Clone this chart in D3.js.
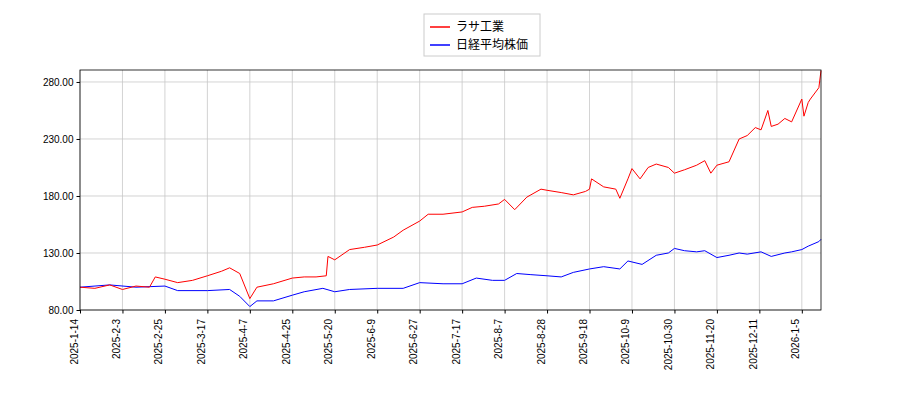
<!DOCTYPE html><html><head><meta charset="utf-8"><script src="https://cdn.jsdelivr.net/npm/d3@7"></script>
<style>body{margin:0;background:#fff}svg{font-family:"DejaVu Sans",sans-serif}</style></head><body><svg id="c" width="900" height="400"></svg><script>
const rasaDates=["2025-01-14","2025-01-21","2025-01-28","2025-02-03","2025-02-10","2025-02-17","2025-02-20","2025-02-25","2025-03-03","2025-03-10","2025-03-17","2025-03-24","2025-03-28","2025-04-02","2025-04-07","2025-04-10","2025-04-17","2025-04-25","2025-05-02","2025-05-09","2025-05-15","2025-05-16","2025-05-20","2025-05-27","2025-06-03","2025-06-09","2025-06-16","2025-06-20","2025-06-27","2025-07-01","2025-07-08","2025-07-17","2025-07-22","2025-07-28","2025-08-04","2025-08-07","2025-08-12","2025-08-18","2025-08-25","2025-08-28","2025-09-04","2025-09-10","2025-09-16","2025-09-18","2025-09-19","2025-09-25","2025-10-01","2025-10-03","2025-10-07","2025-10-09","2025-10-13","2025-10-17","2025-10-21","2025-10-27","2025-10-30","2025-11-04","2025-11-10","2025-11-14","2025-11-17","2025-11-20","2025-11-26","2025-12-01","2025-12-05","2025-12-09","2025-12-12","2025-12-16","2025-12-18","2025-12-22","2025-12-26","2025-12-30","2026-01-05","2026-01-06","2026-01-08","2026-01-09","2026-01-13","2026-01-14"];
const rasaValues=[100,99,102,98,101,100,109,107,104,106,110,114,117,112,90,100,103,108,109,109,110,127,124,133,135,137,144,150,158,164,164,166,170,171,173,177,168,179,186,185,183,181,184,186,195,188,186,178,195,204,195,205,208,205,200,203,207,211,200,207,210,230,233,240,238,255,241,243,248,245,265,250,262,265,275,290];
const nikkeiDates=["2025-01-14","2025-01-28","2025-02-10","2025-02-25","2025-03-03","2025-03-17","2025-03-28","2025-04-02","2025-04-07","2025-04-10","2025-04-17","2025-04-25","2025-05-02","2025-05-13","2025-05-20","2025-05-27","2025-06-09","2025-06-20","2025-06-27","2025-07-08","2025-07-17","2025-07-24","2025-08-01","2025-08-07","2025-08-13","2025-08-20","2025-08-28","2025-09-04","2025-09-10","2025-09-18","2025-09-25","2025-10-03","2025-10-07","2025-10-14","2025-10-21","2025-10-27","2025-10-30","2025-11-04","2025-11-10","2025-11-14","2025-11-20","2025-11-26","2025-12-01","2025-12-05","2025-12-12","2025-12-18","2025-12-26","2025-12-30","2026-01-05","2026-01-08","2026-01-13","2026-01-14"];
const nikkeiValues=[100,102,100,101,97,97,98,92,83,88,88,93,96,99,96,98,99,99,104,103,103,108,106,106,112,111,110,109,113,116,118,116,123,120,128,130,134,132,131,132,126,128,130,129,131,127,130,131,133,136,140,142];
const xTicks=["2025-01-14","2025-02-03","2025-02-25","2025-03-17","2025-04-07","2025-04-25","2025-05-20","2025-06-09","2025-06-27","2025-07-17","2025-08-07","2025-08-28","2025-09-18","2025-10-09","2025-10-30","2025-11-20","2025-12-11","2026-01-05"];
const yTicks=[80,130,180,230,280];
const lastDate="2026-01-14";
const P=d3.timeParse("%Y-%m-%d");
const svg=d3.select("#c");
const L=80,R=821,T=70,B=310,step=42.46;
const dom=xTicks.concat([lastDate]).map(P);
const rng=xTicks.map((d,i)=>L+i*step).concat([R]);
const x=d3.scaleTime().domain(dom).range(rng);
const y=d3.scaleLinear().domain([80,290.5]).range([B,T]);
const g=svg.append("g");
g.selectAll(".vg").data(xTicks).join("line").attr("x1",d=>x(P(d))).attr("x2",d=>x(P(d))).attr("y1",T).attr("y2",B).attr("stroke","#c8c8c8").attr("stroke-width",0.8);
g.selectAll(".hg").data(yTicks).join("line").attr("x1",L).attr("x2",R).attr("y1",d=>y(d)).attr("y2",d=>y(d)).attr("stroke","#c8c8c8").attr("stroke-width",0.8);
const line=d3.line().x(d=>x(P(d[0]))).y(d=>y(d[1]));
svg.append("path").attr("d",line(d3.zip(nikkeiDates,nikkeiValues))).attr("fill","none").attr("stroke","blue").attr("stroke-width",1);
svg.append("path").attr("d",line(d3.zip(rasaDates,rasaValues))).attr("fill","none").attr("stroke","red").attr("stroke-width",1);
svg.append("rect").attr("x",L).attr("y",T).attr("width",R-L).attr("height",B-T).attr("fill","none").attr("stroke","#000").attr("stroke-width",0.8);
const ya=svg.append("g").attr("transform",`translate(${L},0)`).call(d3.axisLeft(y).tickValues(yTicks).tickFormat(d3.format(".2f")).tickSize(3.5).tickSizeOuter(0));
ya.select(".domain").remove();ya.selectAll("text").attr("font-size",10).attr("fill","#000");
const xa=svg.append("g").attr("transform",`translate(0,${B})`).call(d3.axisBottom(x).tickValues(xTicks.map(P)).tickFormat(d3.timeFormat("%Y-%-m-%-d")).tickSize(3.5).tickSizeOuter(0));
xa.select(".domain").remove();
xa.selectAll("text").attr("font-size",10).attr("fill","#000").attr("transform","rotate(-90)").attr("text-anchor","end").attr("dx","-0.6em").attr("dy","-0.3em").attr("y",0).attr("x",-3);
const lg=svg.append("g");
lg.append("rect").attr("x",424).attr("y",14).attr("width",116).attr("height",42).attr("fill","#fff").attr("stroke","#ccc");
[["ラサ工業","red"],["日経平均株価","blue"]].forEach((d,i)=>{lg.append("line").attr("x1",430).attr("x2",450).attr("y1",27+i*18).attr("y2",27+i*18).attr("stroke",d[1]).attr("stroke-width",1.5);
lg.append("text").attr("x",456).attr("y",31+i*18).attr("font-size",12).attr("font-family","'Noto Sans CJK JP',sans-serif").text(d[0]);});
</script></body></html>
